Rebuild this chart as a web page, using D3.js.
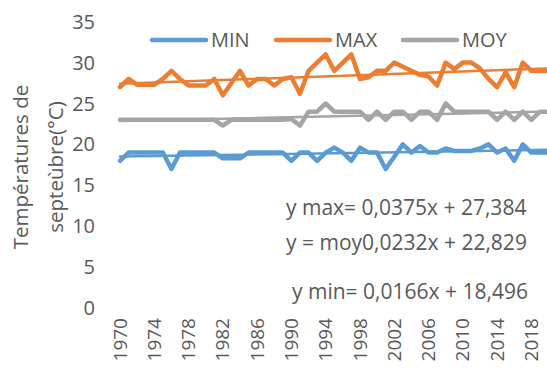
<!DOCTYPE html>
<html>
<head>
<meta charset="utf-8">
<script src="https://cdn.jsdelivr.net/npm/d3@7"></script>
<style>
  body { margin: 0; background: #fff; }
  text { font-family: "Open Sans", sans-serif; fill: #595959; }
</style>
</head>
<body>
<svg id="chart" width="547" height="368"></svg>
<script>
const years = d3.range(1970, 2021);

const tMin = [
  18, 19, 19, 19, 19, 19, 17, 19, 19, 19,
  19, 19, 18.3, 18.3, 18.3, 19, 19, 19, 19, 19,
  18, 19, 19, 18, 19, 19.6, 19, 18, 19.6, 19,
  19, 17, 18.5, 20, 19, 19.8, 19, 19, 19.5, 19.2,
  19.2, 19.2, 19.5, 20, 19, 19.5, 18, 20, 19, 19,
  19
];
const tMax = [
  27, 28, 27.3, 27.3, 27.3, 28, 29, 28, 27.2, 27.2,
  27.2, 28, 26, 27.5, 29, 27.2, 28, 28, 27.2, 28,
  28.2, 26.2, 29, 30, 31, 29, 30, 31, 28, 28.2,
  29, 29, 30, 29.5, 29, 28.5, 28.3, 27.2, 30, 29.2,
  30, 30, 29.3, 28, 27, 28.8, 27, 30, 29, 29,
  29
];
const tMoy = [
  23, 23, 23, 23, 23, 23, 23, 23, 23, 23,
  23, 23, 22.3, 23, 23, 23, 23, 23, 23, 23,
  23.1, 22.3, 24, 24, 25, 24, 24, 24, 24, 23,
  24, 23, 24, 24, 23, 24, 24, 23, 25, 24,
  24, 24, 24, 24, 23, 24, 23, 24, 23, 24,
  24
];

const seriesNames = ["MIN", "MAX", "MOY"];
const seriesColors = ["#5B9BD5", "#ED7D31", "#A5A5A5"];
const trendSlopes = [0.0166, 0.0375, 0.0232];
const trendIntercepts = [18.496, 27.384, 22.829];
const equationLabels = [
  "y max= 0,0375x + 27,384",
  "y = moy0,0232x + 22,829",
  "y min= 0,0166x + 18,496"
];
const yTicks = [0, 5, 10, 15, 20, 25, 30, 35];
const xTickYears = d3.range(1970, 2019, 4);
const yTitle = ["Températures de", "septeùbre(°C)"];

const svg = d3.select("#chart");

const x = d3.scaleLinear().domain([1970, 2020]).range([120, 120 + 8.57 * 50]);
const y = d3.scaleLinear().domain([0, 35]).range([308, 21.7]);

// y axis labels (the original has no axis line)
svg.append("g")
  .selectAll("text")
  .data(yTicks)
  .join("text")
  .attr("x", 95)
  .attr("y", d => y(d))
  .attr("dy", "0.35em")
  .attr("text-anchor", "end")
  .style("font-size", "20px")
  .text(d => d);

// x axis labels, rotated
svg.append("g")
  .selectAll("text")
  .data(xTickYears)
  .join("text")
  .attr("transform", d => `translate(${x(d)},318) rotate(-90)`)
  .attr("dy", "0.35em")
  .attr("text-anchor", "end")
  .style("font-size", "19px")
  .text(d => d);

// y title, two lines
svg.append("g")
  .selectAll("text")
  .data(yTitle)
  .join("text")
  .attr("transform", (d, i) => `translate(${28 + i * 35},167) rotate(-90)`)
  .attr("text-anchor", "middle")
  .style("font-size", "20.5px")
  .text(d => d);

const series = [tMin, tMax, tMoy];

const line = d3.line()
  .x((d, i) => x(years[i]))
  .y(d => y(d));

const plot = svg.append("g");

series.forEach((vals, k) => {
  plot.append("path")
    .datum(vals)
    .attr("fill", "none")
    .attr("stroke", seriesColors[k])
    .attr("stroke-width", 4.5)
    .attr("stroke-linejoin", "round")
    .attr("stroke-linecap", "round")
    .attr("d", line);
});

// linear trend lines, x = 1..n like the spreadsheet
series.forEach((vals, k) => {
  const ends = [0, vals.length - 1].map(i => ({
    yr: years[i],
    v: trendIntercepts[k] + trendSlopes[k] * (i + 1)
  }));
  plot.append("line")
    .attr("x1", x(ends[0].yr))
    .attr("y1", y(ends[0].v))
    .attr("x2", x(ends[1].yr))
    .attr("y2", y(ends[1].v))
    .attr("stroke", seriesColors[k])
    .attr("stroke-width", 2.5)
    .attr("stroke-linecap", "round");
});

// equations
const eqPos = [[286, 215], [286, 250], [292, 299]];
svg.append("g")
  .selectAll("text")
  .data(equationLabels)
  .join("text")
  .attr("x", (d, i) => eqPos[i][0])
  .attr("y", (d, i) => eqPos[i][1])
  .style("font-size", "21px")
  .text(d => d);

// legend
const legendX = [152, 276, 403];
const legend = svg.append("g")
  .selectAll("g")
  .data(seriesNames)
  .join("g")
  .attr("transform", (d, i) => `translate(${legendX[i]},40)`);

legend.append("line")
  .attr("x1", 0)
  .attr("x2", 54)
  .attr("stroke", (d, i) => seriesColors[i])
  .attr("stroke-width", 4.5)
  .attr("stroke-linecap", "round");

legend.append("text")
  .attr("x", 59)
  .attr("dy", "0.35em")
  .style("font-size", "20px")
  .text(d => d);
</script>
</body>
</html>
